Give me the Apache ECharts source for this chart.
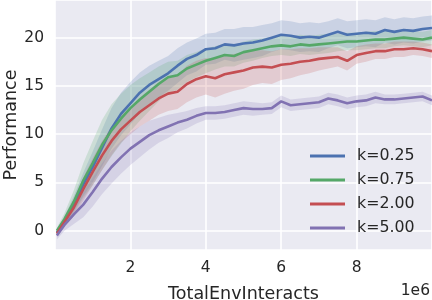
<!DOCTYPE html>
<html><head><meta charset="utf-8">
<script src="https://cdn.jsdelivr.net/npm/echarts@6/dist/echarts.min.js"></script>
<style>html,body{margin:0;padding:0;background:#fff}#c{width:432px;height:300px}</style>
</head><body><div id="c"></div>
<script>
const xs = [0.05,0.25,0.5,0.75,1,1.25,1.5,1.75,2,2.25,2.5,2.75,3,3.25,3.5,3.75,4,4.25,4.5,4.75,5,5.25,5.5,5.75,6,6.25,6.5,6.75,7,7.25,7.5,7.75,8,8.25,8.5,8.75,9,9.25,9.5,9.75,10];
const names = ['k=0.25','k=0.75','k=2.00','k=5.00'];
const meanK025 = [-0.2,1.0,2.8,4.8,6.6,8.6,10.6,12.1,13.2,14.3,15.1,15.7,16.3,17.1,17.8,18.2,18.8,18.9,19.3,19.2,19.4,19.5,19.7,20.0,20.3,20.2,20.0,20.1,20.0,20.3,20.6,20.3,20.4,20.5,20.4,20.8,20.6,20.8,20.7,20.9,21.0];
const meanK075 = [0.0,1.2,3.0,5.2,7.0,8.9,10.4,11.6,12.7,13.6,14.4,15.2,15.9,16.1,16.8,17.2,17.6,17.9,18.2,18.1,18.5,18.7,18.9,19.1,19.2,19.1,19.3,19.2,19.3,19.4,19.5,19.6,19.6,19.7,19.8,19.8,19.9,20.0,19.9,19.8,20.0];
const meanK200 = [-0.3,0.9,2.4,4.3,6.1,7.8,9.3,10.5,11.4,12.3,13.0,13.7,14.2,14.4,15.2,15.7,16.0,15.8,16.2,16.4,16.6,16.9,17.0,16.9,17.2,17.3,17.5,17.6,17.8,17.9,18.0,17.6,18.2,18.4,18.6,18.6,18.8,18.8,18.9,18.8,18.6];
const meanK500 = [-0.5,0.6,1.7,2.7,4.0,5.4,6.6,7.6,8.5,9.2,9.9,10.4,10.8,11.2,11.5,11.9,12.2,12.2,12.3,12.5,12.7,12.6,12.6,12.7,13.4,13.0,13.1,13.2,13.3,13.7,13.5,13.2,13.4,13.5,13.8,13.6,13.6,13.7,13.8,13.9,13.5];
const spreadK025 = [0.3,0.5,0.8,1.2,1.6,1.9,2.1,2.2,2.2,2.1,2.0,1.9,1.8,1.8,1.7,1.7,1.6,1.6,1.6,1.7,1.7,1.6,1.6,1.5,1.5,1.5,1.5,1.5,1.5,1.4,1.4,1.4,1.4,1.4,1.4,1.3,1.3,1.3,1.3,1.3,1.3];
const spreadK075 = [0.3,0.6,1.2,1.8,2.3,2.6,2.7,2.6,2.4,2.2,2.0,1.8,1.6,1.5,1.4,1.3,1.3,1.2,1.2,1.1,1.1,1.1,1.0,1.0,1.0,1.0,1.0,1.0,1.0,1.0,0.9,0.9,0.9,0.9,0.9,0.9,0.8,0.8,0.8,0.8,0.8];
const spreadK200 = [0.3,0.5,0.9,1.2,1.4,1.5,1.5,1.4,1.4,1.5,1.6,1.7,1.8,1.8,1.9,1.9,1.9,2.0,2.0,1.9,1.9,1.8,1.7,1.7,1.6,1.5,1.4,1.3,1.2,1.1,1.0,1.0,0.9,0.9,0.8,0.8,0.8,0.8,0.7,0.7,0.7];
const spreadK500 = [0.4,0.6,1.0,1.3,1.5,1.6,1.7,1.7,1.7,1.6,1.5,1.3,1.2,1.0,0.9,0.8,0.7,0.7,0.7,0.7,0.7,0.7,0.6,0.6,0.6,0.6,0.6,0.6,0.6,0.6,0.6,0.6,0.6,0.6,0.6,0.5,0.5,0.5,0.5,0.5,0.5];
const xTickLabels = [2,4,6,8];
const yTickLabels = [0,5,10,15,20];

const colors = ['#4C72B0','#55A868','#C44E52','#8172B2'];
const bands = ['rgba(76,114,176,0.2)','rgba(85,168,104,0.2)','rgba(196,78,82,0.2)','rgba(129,114,178,0.2)'];
const means = [meanK025, meanK075, meanK200, meanK500];
const spreads = [spreadK025, spreadK075, spreadK200, spreadK500];
const FONT = 'DejaVu Sans';
const TXT = '#262626';

const series = [];
names.forEach((nm, k) => {
  const m = means[k], s = spreads[k];
  series.push({
    type: 'custom', silent: true, z: 2,
    data: [[xs[0], m[0]]],
    renderItem: (params, api) => {
      const pts = [];
      for (let i = 0; i < xs.length; i++) pts.push(api.coord([xs[i], m[i] + s[i]]));
      for (let i = xs.length - 1; i >= 0; i--) pts.push(api.coord([xs[i], m[i] - s[i]]));
      return { type: 'polygon', shape: { points: pts }, style: { fill: bands[k] } };
    }
  });
  series.push({
    name: nm, type: 'line', z: 3, showSymbol: false, symbol: 'none', silent: true,
    data: xs.map((x, i) => [x, m[i]]),
    lineStyle: { color: colors[k], width: 2.6 }, itemStyle: { color: colors[k] }
  });
});

const chart = echarts.init(document.getElementById('c'), null, { renderer: 'canvas' });
chart.setOption({
  animation: false,
  backgroundColor: '#fff',
  color: colors,
  grid: { left: 55, right: 0, top: 0, bottom: 50, show: true, backgroundColor: '#EAEAF2', borderWidth: 0,
    containLabel: false, outerBoundsMode: 'none' },
  xAxis: {
    type: 'value', min: 0, max: 10, interval: 2,
    axisLine: { show: false }, axisTick: { show: false },
    splitLine: { show: true, lineStyle: { color: '#fff', width: 1.6 } },
    axisLabel: { color: TXT, fontFamily: FONT, fontSize: 15.5, margin: 10,
      formatter: v => xTickLabels.includes(v) ? String(v) : '' },
    name: 'TotalEnvInteracts', nameLocation: 'middle', nameGap: 35, nameMoveOverlap: false,
    nameTextStyle: { color: TXT, fontFamily: FONT, fontSize: 17.5 }
  },
  yAxis: {
    type: 'value', min: -2.0, max: 23.9, minInterval: 5, maxInterval: 5,
    axisLine: { show: false }, axisTick: { show: false },
    splitLine: { show: true, lineStyle: { color: '#fff', width: 1.6 } },
    axisLabel: { color: TXT, fontFamily: FONT, fontSize: 15.5, margin: 11,
      formatter: v => yTickLabels.includes(v) ? String(v) : '' },
    name: 'Performance', nameLocation: 'middle', nameGap: 35, nameMoveOverlap: false,
    nameTextStyle: { color: TXT, fontFamily: FONT, fontSize: 17.5 }
  },
  legend: {
    data: names.map(n => ({ name: n, icon: 'rect' })),
    orient: 'vertical', left: 310, top: 147, padding: 0,
    itemWidth: 35, itemHeight: 3, itemGap: 6,
    textStyle: { color: TXT, fontFamily: FONT, fontSize: 15.8, lineHeight: 18, padding: [0, 0, 0, 7] }
  },
  graphic: [{
    type: 'text', right: 2, top: 283,
    style: { text: '1e6', fill: TXT, font: '15.5px "DejaVu Sans"' }
  }],
  series: series
});
</script>
</body></html>
